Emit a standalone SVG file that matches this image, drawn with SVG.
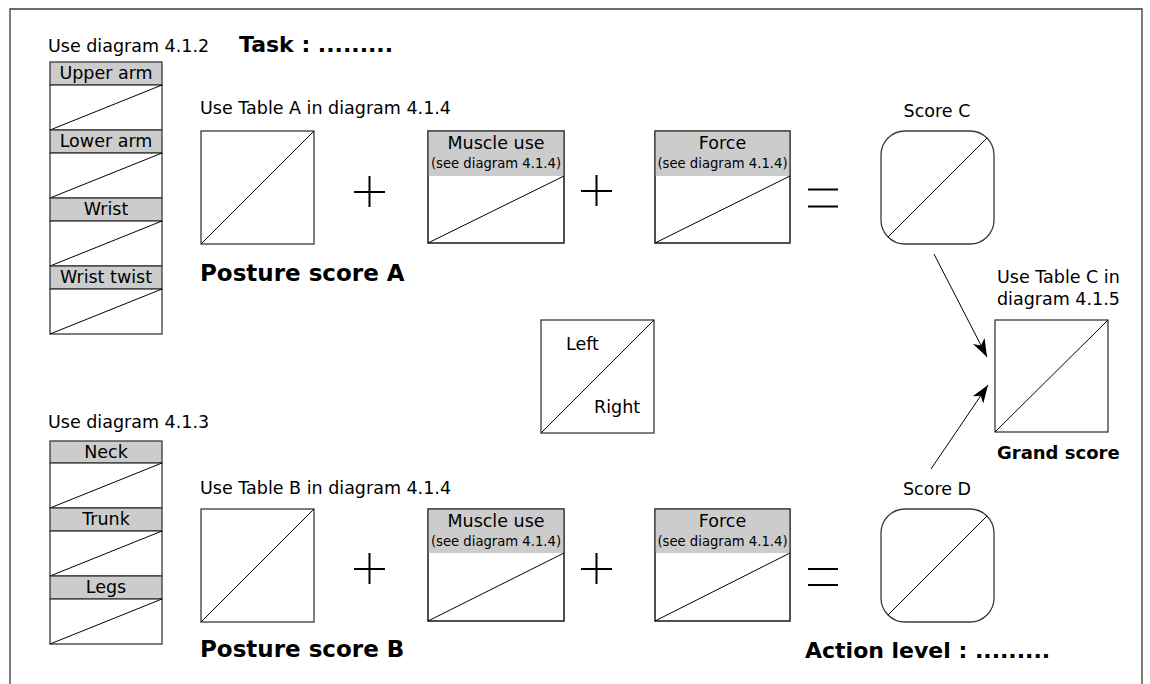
<svg xmlns="http://www.w3.org/2000/svg" width="1150" height="684" viewBox="0 0 1150 684">
<style>
text{font-family:"DejaVu Sans","Liberation Sans",sans-serif;fill:#000}
.t{font-size:17.5px}
.s{font-size:13.2px}
.b{font-size:22px;font-weight:bold}
.bs{font-size:18px;font-weight:bold}
.box{fill:#fff;stroke:#3a3a3a;stroke-width:1.3}
.hdr{fill:#cccccc;stroke:#3a3a3a;stroke-width:1.3}
.dg{stroke:#000;stroke-width:1;fill:none}
.op{stroke:#000;stroke-width:2;fill:none}
.frame{fill:none;stroke:#3a3a3a;stroke-width:1.3}
.c{text-anchor:middle}
</style>
<defs>
<marker id="ah" markerUnits="userSpaceOnUse" markerWidth="20" markerHeight="14" refX="18" refY="6.5" orient="auto">
<path d="M0,0 L18,6.5 L0,13 L5,6.5 z" fill="#000"/>
</marker>
</defs>
<rect width="1150" height="684" fill="#fff"/>
<path class="frame" d="M10,690 V9 H1142 V690"/>

<g id="titles">
<text class="t" x="48" y="52">Use diagram 4.1.2</text>
<text class="b" x="239" y="52">Task : .........</text>
<text class="t" x="48" y="428">Use diagram 4.1.3</text>
<text class="t" x="200" y="114">Use Table A in diagram 4.1.4</text>
<text class="t" x="200" y="494">Use Table B in diagram 4.1.4</text>
<text class="b" x="805" y="658">Action level : .........</text>
</g>

<g id="upper-arm">
<rect class="hdr" x="50" y="62" width="112" height="23"/>
<rect class="box" x="50" y="85" width="112" height="45"/>
<line class="dg" x1="50" y1="130" x2="162" y2="85"/>
<text class="t c" x="106" y="79">Upper arm</text>
</g>
<g id="lower-arm">
<rect class="hdr" x="50" y="130" width="112" height="23"/>
<rect class="box" x="50" y="153" width="112" height="45"/>
<line class="dg" x1="50" y1="198" x2="162" y2="153"/>
<text class="t c" x="106" y="147">Lower arm</text>
</g>
<g id="wrist">
<rect class="hdr" x="50" y="198" width="112" height="23"/>
<rect class="box" x="50" y="221" width="112" height="45"/>
<line class="dg" x1="50" y1="266" x2="162" y2="221"/>
<text class="t c" x="106" y="215">Wrist</text>
</g>
<g id="wrist-twist">
<rect class="hdr" x="50" y="266" width="112" height="23"/>
<rect class="box" x="50" y="289" width="112" height="45"/>
<line class="dg" x1="50" y1="334" x2="162" y2="289"/>
<text class="t c" x="106" y="283">Wrist twist</text>
</g>

<g id="neck">
<rect class="hdr" x="50" y="441" width="112" height="22"/>
<rect class="box" x="50" y="463" width="112" height="45"/>
<line class="dg" x1="50" y1="508" x2="162" y2="463"/>
<text class="t c" x="106" y="458">Neck</text>
</g>
<g id="trunk">
<rect class="hdr" x="50" y="508" width="112" height="23"/>
<rect class="box" x="50" y="531" width="112" height="45"/>
<line class="dg" x1="50" y1="576" x2="162" y2="531"/>
<text class="t c" x="106" y="525">Trunk</text>
</g>
<g id="legs">
<rect class="hdr" x="50" y="576" width="112" height="23"/>
<rect class="box" x="50" y="599" width="112" height="45"/>
<line class="dg" x1="50" y1="644" x2="162" y2="599"/>
<text class="t c" x="106" y="593">Legs</text>
</g>

<g id="posture-a">
<rect class="box" x="201" y="131" width="113" height="113"/>
<line class="dg" x1="201" y1="244" x2="314" y2="131"/>
<text class="b" x="200" y="281" style="font-size:23px">Posture score A</text>
</g>
<g id="plus-a1"><path class="op" d="M354,192 H385 M369.5,176 V207"/></g>
<g id="muscle-a">
<rect class="box" x="428" y="131" width="136" height="112"/>
<rect class="hdr" x="428" y="131" width="136" height="45" style="stroke:none"/>
<rect x="428" y="131" width="136" height="112" fill="none" stroke="#3a3a3a" stroke-width="1.3"/>
<line class="dg" x1="428" y1="243" x2="564" y2="176"/>
<text class="t c" x="496" y="149">Muscle use</text>
<text class="s c" x="496" y="168">(see diagram 4.1.4)</text>
</g>
<g id="plus-a2"><path class="op" d="M581,191 H612 M596.5,175 V206"/></g>
<g id="force-a">
<rect class="box" x="655" y="131" width="135" height="112"/>
<rect class="hdr" x="655" y="131" width="135" height="45" style="stroke:none"/>
<rect x="655" y="131" width="135" height="112" fill="none" stroke="#3a3a3a" stroke-width="1.3"/>
<line class="dg" x1="655" y1="243" x2="790" y2="176"/>
<text class="t c" x="722.5" y="149">Force</text>
<text class="s c" x="722.5" y="168">(see diagram 4.1.4)</text>
</g>
<g id="equals-a"><path class="op" d="M808,189.5 H838 M808,206.5 H838"/></g>
<g id="score-c">
<text class="t c" x="937" y="117">Score C</text>
<rect class="box" x="881" y="131" width="113" height="113" rx="24" ry="24"/>
<line class="dg" x1="888" y1="237" x2="987" y2="138"/>
</g>

<g id="left-right">
<rect class="box" x="541" y="320" width="113" height="113"/>
<line class="dg" x1="541" y1="433" x2="654" y2="320"/>
<text class="t" x="566" y="350">Left</text>
<text class="t" x="594" y="413">Right</text>
</g>

<g id="grand-score">
<text class="t" x="997" y="283">Use Table C in</text>
<text class="t" x="997" y="305">diagram 4.1.5</text>
<rect class="box" x="995" y="320" width="113" height="112"/>
<line class="dg" x1="995" y1="432" x2="1108" y2="320"/>
<text class="bs" x="997" y="459">Grand score</text>
</g>

<g id="posture-b">
<rect class="box" x="201" y="509" width="113" height="113"/>
<line class="dg" x1="201" y1="622" x2="314" y2="509"/>
<text class="b" x="200" y="657" style="font-size:23px">Posture score B</text>
</g>
<g id="plus-b1"><path class="op" d="M354,569 H385 M369.5,553 V584"/></g>
<g id="muscle-b">
<rect class="box" x="428" y="509" width="136" height="112"/>
<rect class="hdr" x="428" y="509" width="136" height="44" style="stroke:none"/>
<rect x="428" y="509" width="136" height="112" fill="none" stroke="#3a3a3a" stroke-width="1.3"/>
<line class="dg" x1="428" y1="621" x2="564" y2="553"/>
<text class="t c" x="496" y="527">Muscle use</text>
<text class="s c" x="496" y="546">(see diagram 4.1.4)</text>
</g>
<g id="plus-b2"><path class="op" d="M581,569 H612 M596.5,553 V584"/></g>
<g id="force-b">
<rect class="box" x="655" y="509" width="135" height="112"/>
<rect class="hdr" x="655" y="509" width="135" height="44" style="stroke:none"/>
<rect x="655" y="509" width="135" height="112" fill="none" stroke="#3a3a3a" stroke-width="1.3"/>
<line class="dg" x1="655" y1="621" x2="790" y2="553"/>
<text class="t c" x="722.5" y="527">Force</text>
<text class="s c" x="722.5" y="546">(see diagram 4.1.4)</text>
</g>
<g id="equals-b"><path class="op" d="M808,569 H838 M808,585 H838"/></g>
<g id="score-d">
<text class="t c" x="937" y="495">Score D</text>
<rect class="box" x="881" y="509" width="113" height="113" rx="24" ry="24"/>
<line class="dg" x1="888" y1="615" x2="987" y2="516"/>
</g>

<g id="connectors">
<line x1="934" y1="254" x2="987" y2="357" stroke="#000" stroke-width="1" marker-end="url(#ah)"/>
<line x1="931" y1="469" x2="988" y2="385" stroke="#000" stroke-width="1" marker-end="url(#ah)"/>
</g>
</svg>
